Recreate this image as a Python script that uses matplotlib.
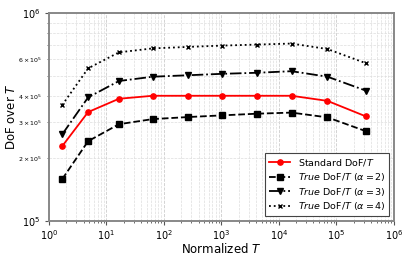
import numpy as np
import matplotlib
matplotlib.use("Agg")
import matplotlib.pyplot as plt


# ============================================================
# DATA
# ============================================================

normalized_t = [1.7, 4.8, 16.5, 64, 262, 1024, 4150, 16600, 70000, 330000]

standard_dof = [2.29e5, 3.34e5, 3.87e5, 4.0e5, 4.0e5, 4.0e5, 4.0e5, 4.0e5, 3.78e5, 3.18e5]
true_dof_a2 = [1.59e5, 2.42e5, 2.92e5, 3.09e5, 3.16e5, 3.22e5, 3.28e5, 3.32e5, 3.15e5, 2.70e5]
true_dof_a3 = [2.61e5, 3.93e5, 4.71e5, 4.94e5, 5.02e5, 5.10e5, 5.16e5, 5.25e5, 4.94e5, 4.23e5]
true_dof_a4 = [3.61e5, 5.42e5, 6.47e5, 6.76e5, 6.87e5, 6.97e5, 7.05e5, 7.13e5, 6.71e5, 5.73e5]


# ============================================================
# PLOT
# ============================================================

def main():
    fig = plt.figure(figsize=(4.15, 2.6), dpi=100)
    ax = fig.add_axes([0.118, 0.15, 0.831, 0.80])

    ax.plot(normalized_t, standard_dof, "-o", color="red", linewidth=1.3,
            markersize=3.8, label="Standard DoF/$T$", zorder=4)
    ax.plot(normalized_t, true_dof_a2, "--s", color="black", linewidth=1.3,
            markersize=3.8, label=r"$\mathit{True}$ DoF/$T$ ($\alpha=2$)")
    ax.plot(normalized_t, true_dof_a3, "-.v", color="black", linewidth=1.3,
            markersize=3.8, label=r"$\mathit{True}$ DoF/$T$ ($\alpha=3$)")
    ax.plot(normalized_t, true_dof_a4, ":x", color="black", linewidth=1.3,
            markersize=3.5, label=r"$\mathit{True}$ DoF/$T$ ($\alpha=4$)")

    ax.set_xscale("log")
    ax.set_yscale("log")
    ax.set_xlim(1, 1e6)
    ax.set_ylim(1e5, 1e6)

    ax.grid(which="major", linestyle="--", color="#cccccc", linewidth=0.6)
    ax.grid(which="minor", linestyle="--", color="#dddddd", linewidth=0.5)

    for spine in ax.spines.values():
        spine.set_color("#888888")
        spine.set_linewidth(1.4)

    ax.tick_params(which="major", labelsize=7, length=3, color="#555555")
    ax.tick_params(which="minor", labelsize=4.5, length=1.5, color="#555555")
    ax.tick_params(axis="x", which="both", pad=2)

    ax.set_xlabel("Normalized $T$", fontsize=8.5, labelpad=0)
    ax.set_ylabel("DoF over $T$", fontsize=8.5, labelpad=0)

    legend = ax.legend(loc="lower right", fontsize=6.8, handlelength=2.2,
                       borderpad=0.4, labelspacing=0.3, framealpha=1,
                       fancybox=False)
    legend.get_frame().set_edgecolor("#444444")
    legend.get_frame().set_linewidth(0.8)

    fig.savefig("out.png", dpi=100)


if __name__ == "__main__":
    main()
